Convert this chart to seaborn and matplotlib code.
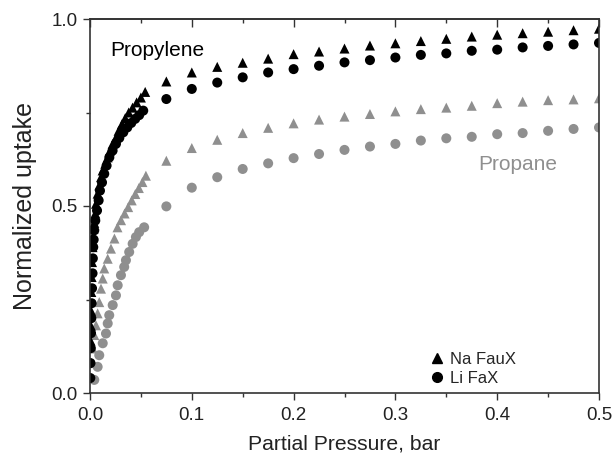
import numpy as np
import pandas as pd
import matplotlib
matplotlib.use("Agg")
import matplotlib.pyplot as plt
from matplotlib.lines import Line2D
from matplotlib.ticker import MultipleLocator, NullFormatter
import seaborn as sns

# ---- data ----
high_p = [0.075, 0.1, 0.125, 0.15, 0.175, 0.2, 0.225, 0.25, 0.275, 0.3,
          0.325, 0.35, 0.375, 0.4, 0.425, 0.45, 0.475, 0.5]

na_propylene_low_p = [0.0005, 0.0008, 0.001, 0.0013, 0.0016, 0.002, 0.0025, 0.003, 0.0035,
                      0.0042, 0.0052, 0.0059, 0.0075, 0.0091, 0.0108, 0.0124, 0.015, 0.0173,
                      0.0196, 0.0222, 0.0255, 0.0281, 0.0314, 0.0346, 0.038, 0.0418,
                      0.0458, 0.05, 0.0542]
na_propylene_low_q = [0.14, 0.18, 0.22, 0.27, 0.31, 0.35, 0.39, 0.42, 0.44,
                      0.455, 0.48, 0.506, 0.533, 0.555, 0.577, 0.595, 0.613, 0.630,
                      0.648, 0.666, 0.683, 0.701, 0.719, 0.735, 0.750, 0.763,
                      0.777, 0.790, 0.805]
na_propylene_high_q = [0.833, 0.857, 0.872, 0.883, 0.894, 0.906, 0.913, 0.921, 0.929,
                       0.935, 0.941, 0.947, 0.953, 0.958, 0.962, 0.966, 0.970, 0.974]

li_propylene_low_p = [0.0003, 0.0005, 0.0008, 0.001, 0.0013, 0.0016, 0.002, 0.0025, 0.0028,
                      0.0032, 0.0036, 0.0042, 0.0052, 0.0069, 0.0085, 0.0098, 0.0118,
                      0.014, 0.0163, 0.019, 0.0222, 0.0255, 0.0288, 0.0327, 0.0366,
                      0.0405, 0.0444, 0.0483, 0.0523]
li_propylene_low_q = [0.04, 0.08, 0.12, 0.16, 0.20, 0.24, 0.28, 0.32, 0.36,
                      0.39, 0.41, 0.435, 0.461, 0.488, 0.515, 0.541, 0.563,
                      0.586, 0.608, 0.630, 0.648, 0.666, 0.682, 0.697, 0.710,
                      0.722, 0.733, 0.743, 0.755]
li_propylene_high_q = [0.786, 0.813, 0.830, 0.844, 0.857, 0.866, 0.875, 0.884, 0.890,
                       0.897, 0.904, 0.908, 0.915, 0.918, 0.924, 0.928, 0.932, 0.936]

na_propane_low_p = [0.001, 0.0026, 0.0042, 0.0059, 0.0075, 0.0091, 0.0108, 0.0125, 0.014,
                    0.0174, 0.0206, 0.024, 0.027, 0.0305, 0.034, 0.0375, 0.041,
                    0.0445, 0.048, 0.0515, 0.0549]
na_propane_low_q = [0.08, 0.119, 0.155, 0.181, 0.213, 0.243, 0.279, 0.306, 0.333,
                    0.359, 0.386, 0.413, 0.443, 0.462, 0.480, 0.497, 0.515,
                    0.532, 0.548, 0.564, 0.581]
na_propane_high_q = [0.621, 0.655, 0.677, 0.695, 0.709, 0.721, 0.731, 0.739, 0.746,
                     0.753, 0.759, 0.763, 0.768, 0.775, 0.779, 0.783, 0.785, 0.788]

li_propane_low_p = [0.0042, 0.0075, 0.0091, 0.0125, 0.0157, 0.0174, 0.0189, 0.0223,
                    0.0255, 0.0272, 0.0304, 0.0336, 0.0353, 0.0385, 0.0419, 0.0451,
                    0.0483, 0.0532]
li_propane_low_q = [0.035, 0.070, 0.101, 0.133, 0.159, 0.186, 0.208, 0.235,
                    0.261, 0.288, 0.315, 0.337, 0.355, 0.377, 0.399, 0.417,
                    0.430, 0.443]
li_propane_high_q = [0.499, 0.549, 0.577, 0.599, 0.614, 0.628, 0.639, 0.650, 0.659,
                     0.666, 0.675, 0.681, 0.685, 0.692, 0.695, 0.701, 0.706, 0.710]

x_ticks = [0.0, 0.1, 0.2, 0.3, 0.4, 0.5]
x_tick_labels = ["0.0", "0.1", "0.2", "0.3", "0.4", "0.5"]
y_ticks = [0.0, 0.5, 1.0]
y_tick_labels = ["0.0", "0.5", "1.0"]
legend_labels = ["Na FauX", "Li FaX"]
gas_labels = ["Propylene", "Propane"]


def frame(p, q, gas, sorbent):
    return pd.DataFrame({"p": p, "q": q, "gas": gas, "sorbent": sorbent})


df = pd.concat([
    frame(na_propylene_low_p + high_p, na_propylene_low_q + na_propylene_high_q, "Propylene", "Na FauX"),
    frame(li_propylene_low_p + high_p, li_propylene_low_q + li_propylene_high_q, "Propylene", "Li FaX"),
    frame(na_propane_low_p + high_p, na_propane_low_q + na_propane_high_q, "Propane", "Na FauX"),
    frame(li_propane_low_p + high_p, li_propane_low_q + li_propane_high_q, "Propane", "Li FaX"),
], ignore_index=True)

sns.set_style("ticks")
plt.rcParams["font.family"] = ["Liberation Sans", "DejaVu Sans"]

fig = plt.figure(figsize=(6.12, 4.59), dpi=100)
ax = fig.add_axes([90 / 612, 1 - 393 / 459, (599 - 90) / 612, (393 - 19) / 459])

gray = "#8f8f8f"
palette = {"Propylene": "black", "Propane": gray}
markers = {"Na FauX": "^", "Li FaX": "o"}

# draw propane first, then propylene on top
for gas in ["Propane", "Propylene"]:
    sub = df[df["gas"] == gas]
    sns.scatterplot(data=sub, x="p", y="q", hue="gas", style="sorbent",
                    palette=palette, markers=markers, s=52, linewidth=0,
                    legend=False, ax=ax)

ax.set_xlim(0, 0.5)
ax.set_ylim(0, 1.0)
ax.set_xticks(x_ticks)
ax.set_xticklabels(x_tick_labels)
ax.set_yticks(y_ticks)
ax.set_yticklabels(y_tick_labels)
ax.xaxis.set_minor_locator(MultipleLocator(0.05))
ax.yaxis.set_minor_locator(MultipleLocator(0.25))

tick_col = "#333333"
ax.tick_params(axis="both", which="major", direction="out", length=5, width=1,
               labelsize=13.5, labelcolor="#222222", color=tick_col, pad=4)
ax.tick_params(axis="x", which="major", pad=5)
ax.tick_params(axis="both", which="minor", direction="out", length=3, width=1,
               color=tick_col)
ax.tick_params(top=False, right=False, which="both")

# top axis: inward ticks, no labels
top = ax.secondary_xaxis("top")
top.set_xticks(x_ticks)
top.xaxis.set_minor_locator(MultipleLocator(0.05))
top.xaxis.set_major_formatter(NullFormatter())
top.tick_params(which="major", direction="in", length=6, width=1, color=tick_col)
top.tick_params(which="minor", direction="in", length=3, width=1, color=tick_col)
top.spines["top"].set_linewidth(1.2)
top.spines["top"].set_color(tick_col)

for sp in ax.spines.values():
    sp.set_visible(True)
    sp.set_linewidth(1.2)
    sp.set_color(tick_col)

ax.set_xlabel("Partial Pressure, bar", fontsize=15.2, labelpad=8, color="#222222")
ax.set_ylabel("Normalized uptake", fontsize=18, labelpad=10, color="#222222")

ax.text(0.0195, 0.915, gas_labels[0], fontsize=15, color="black", ha="left", va="center")
ax.text(0.381, 0.612, gas_labels[1], fontsize=15, color=gray, ha="left", va="center")

handles = [
    Line2D([], [], linestyle="none", marker="^", color="black", markersize=7.5),
    Line2D([], [], linestyle="none", marker="o", color="black", markersize=7),
]
ax.legend(handles, legend_labels, loc="lower left", bbox_to_anchor=(0.632, -0.022),
          frameon=False, fontsize=12, handletextpad=0.2, labelspacing=0.25,
          handlelength=1.2)

fig.savefig("out.png", dpi=100)
